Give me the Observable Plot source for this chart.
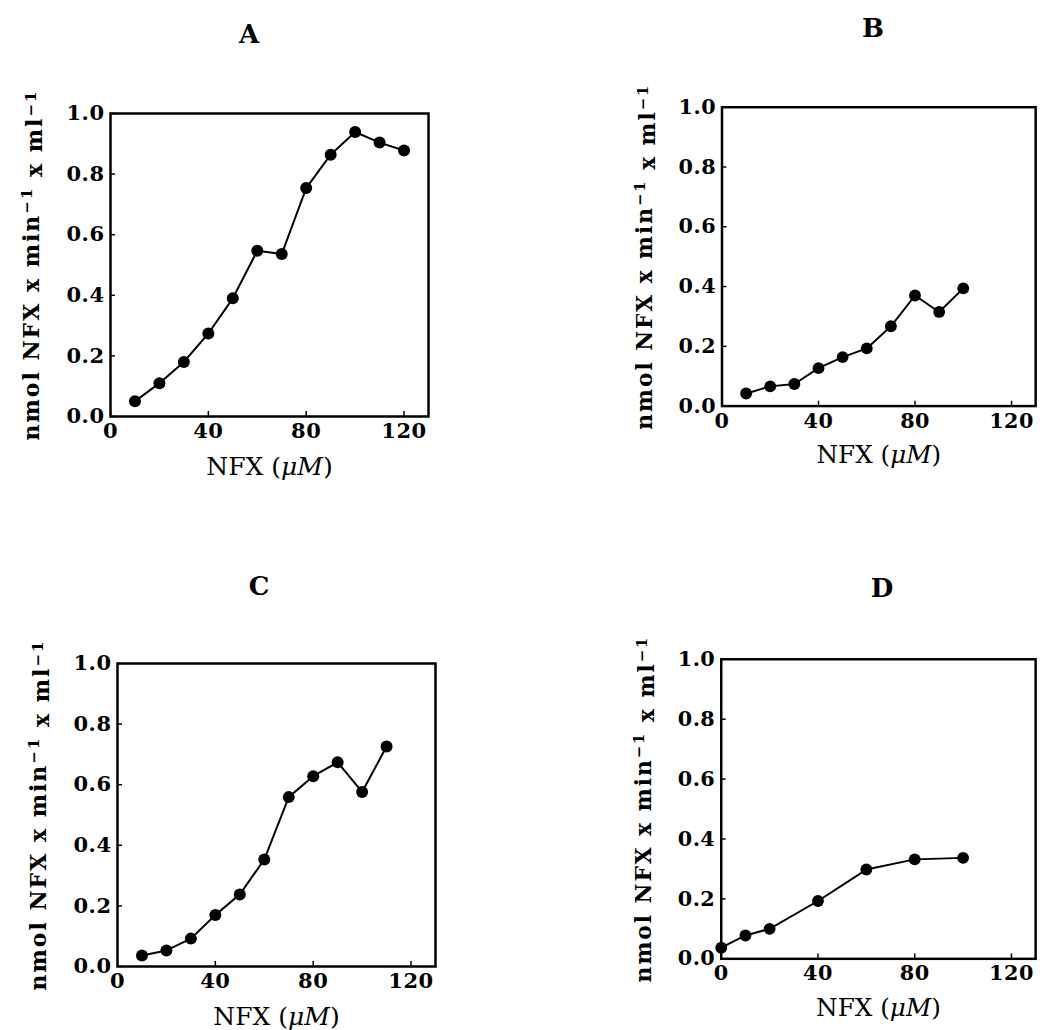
<!DOCTYPE html>
<html>
<head>
<meta charset="utf-8">
<script src="https://cdn.jsdelivr.net/npm/d3@7"></script>
<script src="https://cdn.jsdelivr.net/npm/@observablehq/plot@0.6"></script>
<style>
  html, body { margin: 0; padding: 0; background: #fff; }
  #root { position: relative; width: 1047px; height: 1030px; overflow: hidden; background: #fff; }
  .panel { position: absolute; }
  .title { position: absolute; font-family: "DejaVu Serif", serif; font-weight: bold; font-size: 26px; color: #000; transform: translateX(-50%); line-height: 1; }
  svg { overflow: visible; }
  g[aria-label="x-axis tick label"] text, g[aria-label="y-axis tick label"] text { font-family: "DejaVu Serif", serif; font-weight: bold; font-size: 21px; letter-spacing: 0.5px; }
  g[aria-label="y-axis label"] text { font-family: "DejaVu Serif", serif; font-weight: bold; font-size: 22px; letter-spacing: 2px; }
  g[aria-label="x-axis label"] text { font-family: "DejaVu Serif", serif; font-weight: normal; font-size: 25px; }
</style>
</head>
<body>
<div id="root"></div>
<script>
// ---- data ----
const panelNames = ["A", "B", "C", "D"];
const xA = [10, 20, 30, 40, 50, 60, 70, 80, 90, 100, 110, 120];
const yA = [0.05, 0.11, 0.18, 0.274, 0.39, 0.547, 0.536, 0.754, 0.864, 0.939, 0.904, 0.878];
const xB = [10, 20, 30, 40, 50, 60, 70, 80, 90, 100];
const yB = [0.042, 0.066, 0.074, 0.127, 0.164, 0.193, 0.267, 0.37, 0.315, 0.394];
const xC = [10, 20, 30, 40, 50, 60, 70, 80, 90, 100, 110];
const yC = [0.036, 0.053, 0.092, 0.17, 0.238, 0.353, 0.559, 0.628, 0.674, 0.576, 0.726];
const xD = [0, 10, 20, 40, 60, 80, 100];
const yD = [0.037, 0.078, 0.10, 0.193, 0.298, 0.332, 0.337];
const xTicks = [0, 40, 80, 120];
const yTicks = [0, 0.2, 0.4, 0.6, 0.8, 1.0];
const xLabel = "NFX (μM)";
const yLabel = "nmol NFX x min−1 x ml−1";

const series = [[xA, yA], [xB, yB], [xC, yC], [xD, yD]];
// layout: svg left/top and title position
const layout = [
  {left: 0,   top: 93,  tx: 249, ty: 21},
  {left: 613, top: 87,  tx: 873, ty: 15},
  {left: 7,   top: 643, tx: 259, ty: 573},
  {left: 612, top: 639, tx: 882, ty: 575}
];

const root = document.getElementById("root");
const ML = 110, MT = 20, MR = 12, MB = 70, PW = 318, PH = 303;
const SVGNS = "http://www.w3.org/2000/svg";

function span(parent, txt, attrs) {
  const s = document.createElementNS(SVGNS, "tspan");
  s.textContent = txt;
  for (const k in attrs) s.setAttribute(k, attrs[k]);
  parent.appendChild(s);
}

series.forEach(([xs, ys], i) => {
  const data = xs.map((x, j) => ({x, y: ys[j]}));
  const chart = Plot.plot({
    width: ML + PW + MR,
    height: MT + PH + MB,
    marginLeft: ML, marginTop: MT, marginRight: MR, marginBottom: MB,
    style: {background: "transparent", color: "#000", overflow: "visible"},
    x: {domain: [0, 130]},
    y: {domain: [0, 1.0]},
    marks: [
      Plot.axisX(xTicks, {tickSize: -5, tickPadding: 12, strokeWidth: 1.5, label: xLabel, labelAnchor: "center", labelOffset: 58, labelArrow: "none", tickFormat: d => String(d)}),
      Plot.axisY(yTicks, {tickSize: -5, tickPadding: 11, strokeWidth: 1.5, label: yLabel, labelAnchor: "center", labelOffset: 87, labelArrow: "none", tickFormat: d3.format(".1f")}),
      Plot.frame({stroke: "#000", strokeWidth: 2.5}),
      Plot.line(data, {x: "x", y: "y", stroke: "#000", strokeWidth: 2}),
      Plot.dot(data, {x: "x", y: "y", r: 6, fill: "#000", stroke: "none"})
    ]
  });
  // superscripts in the y label
  const yl = chart.querySelector('g[aria-label="y-axis label"] text');
  if (yl) {
    yl.textContent = "";
    span(yl, "nmol NFX x min", {});
    span(yl, "−1", {dy: "-0.45em", "font-size": "15px"});
    span(yl, " x ml", {dy: "0.45em"});
    span(yl, "−1", {dy: "-0.45em", "font-size": "15px"});
  }
  // italic μM in the x label
  const xl = chart.querySelector('g[aria-label="x-axis label"] text');
  if (xl) {
    xl.textContent = "";
    span(xl, "NFX (", {});
    span(xl, "μM", {"font-style": "italic"});
    span(xl, ")", {});
  }
  const wrap = document.createElement("div");
  wrap.className = "panel";
  wrap.style.left = layout[i].left + "px";
  wrap.style.top = layout[i].top + "px";
  wrap.appendChild(chart);
  root.appendChild(wrap);
  const t = document.createElement("div");
  t.className = "title";
  t.textContent = panelNames[i];
  t.style.left = layout[i].tx + "px";
  t.style.top = layout[i].ty + "px";
  root.appendChild(t);
});
</script>
</body>
</html>
